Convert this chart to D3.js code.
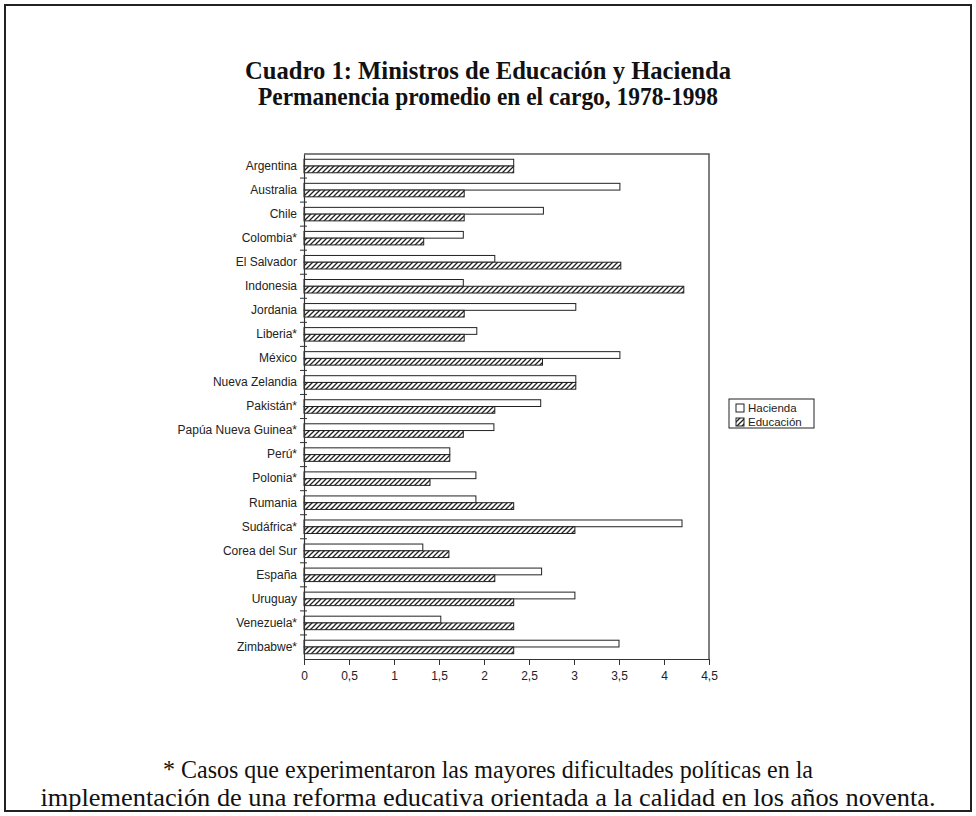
<!DOCTYPE html>
<html><head><meta charset="utf-8">
<script src="https://cdn.jsdelivr.net/npm/d3@7"></script>
<style>body{margin:0;background:#fff}svg{display:block}</style>
</head><body>
<svg id="c" width="976" height="816"></svg>
<script>
const categories = ["Argentina","Australia","Chile","Colombia*","El Salvador","Indonesia","Jordania","Liberia*","México","Nueva Zelandia","Pakistán*","Papúa Nueva Guinea*","Perú*","Polonia*","Rumania","Sudáfrica*","Corea del Sur","España","Uruguay","Venezuela*","Zimbabwe*"];
const hacienda = [2.33,3.51,2.66,1.77,2.12,1.77,3.02,1.92,3.51,3.02,2.63,2.11,1.62,1.91,1.91,4.2,1.32,2.64,3.01,1.52,3.5];
const educacion = [2.33,1.78,1.78,1.33,3.52,4.22,1.78,1.78,2.65,3.02,2.12,1.77,1.62,1.40,2.33,3.01,1.61,2.12,2.33,2.33,2.33];
const xTicks = [0,0.5,1,1.5,2,2.5,3,3.5,4,4.5];
const seriesNames = ["Hacienda","Educación"];
const titleLines = ["Cuadro 1: Ministros de Educación y Hacienda","Permanencia promedio en el cargo, 1978-1998"];
const noteLines = ["* Casos que experimentaron las mayores dificultades políticas en la","implementación de una reforma educativa orientada a la calidad en los años noventa."];

const svg = d3.select("#c");
const defs = svg.append("defs");
const pat = defs.append("pattern").attr("id","hatch").attr("patternUnits","userSpaceOnUse")
  .attr("width",5).attr("height",5);
pat.append("rect").attr("width",5).attr("height",5).attr("fill","#fff");
pat.append("path").attr("d","M-1,1 l2,-2 M0,5 l5,-5 M4,6 l2,-2").attr("stroke","#222").attr("stroke-width",1.3);

svg.append("rect").attr("x",5).attr("y",5).attr("width",966).attr("height",806)
  .attr("fill","none").attr("stroke","#222").attr("stroke-width",2);

const serif = "'Liberation Serif','Times New Roman',Times,serif";
const titleW = [486, 460];
svg.selectAll("text.title").data(titleLines).join("text").attr("class","title")
  .attr("x",488).attr("y",(d,i)=>79+i*26).attr("text-anchor","middle")
  .attr("font-family",serif).attr("font-weight","bold")
  .attr("font-size",24.5).attr("fill","#111")
  .attr("textLength",(d,i)=>titleW[i]).attr("lengthAdjust","spacingAndGlyphs").text(d=>d);

const noteW = [650, 895];
svg.selectAll("text.note").data(noteLines).join("text").attr("class","note")
  .attr("x",488).attr("y",(d,i)=>778+i*28).attr("text-anchor","middle")
  .attr("font-family",serif)
  .attr("font-size",26).attr("fill","#111")
  .attr("textLength",(d,i)=>noteW[i]).attr("lengthAdjust","spacingAndGlyphs").text(d=>d);

const L=304, R=709, T=154, B=659;
const x = d3.scaleLinear().domain([0,4.5]).range([L,R]);
const y = d3.scaleBand().domain(categories).range([T,B]);
const sub = d3.scaleBand().domain(seriesNames).range([0,y.bandwidth()]).paddingOuter(0.78).paddingInner(0);

const g = svg.append("g");
g.append("path").attr("d",`M${L},${T}H${R}V${B}`).attr("fill","none").attr("stroke","#555").attr("stroke-width",1.5);

const rows = categories.map((c,i)=>({c,h:hacienda[i],e:educacion[i]}));
g.selectAll("rect.h").data(rows).join("rect").attr("class","h")
  .attr("x",x(0)).attr("y",d=>y(d.c)+sub("Hacienda")).attr("width",d=>x(d.h)-x(0)).attr("height",sub.bandwidth())
  .attr("fill","#fff").attr("stroke","#222").attr("stroke-width",1);
g.selectAll("rect.e").data(rows).join("rect").attr("class","e")
  .attr("x",x(0)).attr("y",d=>y(d.c)+sub("Educación")).attr("width",d=>x(d.e)-x(0)).attr("height",sub.bandwidth())
  .attr("fill","url(#hatch)").attr("stroke","#222").attr("stroke-width",1);

const xa = g.append("g").attr("transform",`translate(0,${B})`)
  .call(d3.axisBottom(x).tickValues(xTicks).tickSize(6).tickSizeOuter(0).tickFormat(d=>String(d).replace(".",",")));
xa.select(".domain").attr("stroke","#333").attr("stroke-width",1.2);
xa.selectAll(".tick line").attr("stroke","#333");
xa.selectAll("text").attr("font-family","'Liberation Sans',Arial,sans-serif").attr("font-size",12).attr("fill","#222").attr("dy","1em");

const ya = g.append("g").attr("transform",`translate(${L},0)`)
  .call(d3.axisLeft(y).tickSize(0).tickPadding(7));
ya.select(".domain").attr("stroke","#333").attr("stroke-width",1.2);
ya.selectAll("text").attr("font-family","'Liberation Sans',Arial,sans-serif").attr("font-size",12).attr("fill","#222");
const bounds = categories.slice(1).map(c=>y(c));
g.selectAll("line.yt").data(bounds).join("line").attr("class","yt")
  .attr("x1",L-4).attr("x2",L+3).attr("y1",d=>d).attr("y2",d=>d).attr("stroke","#333");

const lg = svg.append("g").attr("transform","translate(729,399)");
lg.append("rect").attr("width",85).attr("height",29).attr("fill","#fff").attr("stroke","#222").attr("stroke-width",1);
seriesNames.forEach((s,i)=>{
  lg.append("rect").attr("x",7).attr("y",5+i*14).attr("width",8).attr("height",8)
    .attr("fill",i===0?"#fff":"url(#hatch)").attr("stroke","#222");
  lg.append("text").attr("x",19).attr("y",13+i*14).attr("font-family","'Liberation Sans',Arial,sans-serif")
    .attr("font-size",11.5).attr("fill","#222").text(s);
});
</script>
</body></html>
